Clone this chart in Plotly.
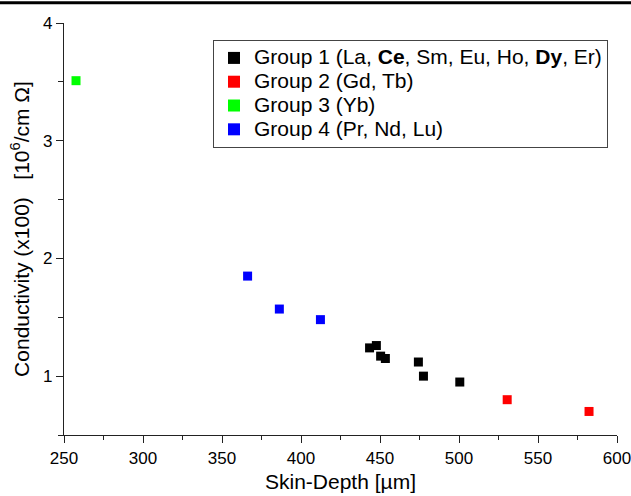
import plotly.graph_objects as go

# Data
g1_x = [443.4, 447.7, 450.4, 453.4, 474.3, 477.5, 500.5]
g1_y = [1.24, 1.26, 1.17, 1.15, 1.12, 1.00, 0.95]
g2_x = [530.5, 582.3]
g2_y = [0.80, 0.70]
g3_x = [257.6]
g3_y = [3.51]
g4_x = [366.2, 386.3, 412.3]
g4_y = [1.85, 1.57, 1.48]

names = [
    "Group 1 (La, <b>Ce</b>, Sm, Eu, Ho, <b>Dy</b>, Er)",
    "Group 2 (Gd, Tb)",
    "Group 3 (Yb)",
    "Group 4 (Pr, Nd, Lu)",
]
colors = ["#000000", "#ff0000", "#00ff00", "#0000ff"]
series = [(g1_x, g1_y), (g2_x, g2_y), (g3_x, g3_y), (g4_x, g4_y)]

FONT = "Arial, 'Liberation Sans', sans-serif"

fig = go.Figure()
for (xs, ys), nm, c in zip(series, names, colors):
    fig.add_trace(go.Scatter(
        x=xs, y=ys, mode="markers",
        name='<span style="font-size:21px">' + nm + '</span>',
        marker=dict(symbol="square", size=9, color=c, line=dict(width=0)),
    ))

axis_common = dict(
    showline=True, linecolor="#222222", linewidth=1.3,
    ticks="outside", ticklen=7, tickwidth=1.3, tickcolor="#222222",
    showgrid=False, zeroline=False, mirror=False, automargin=False,
    ticklabeloverflow="allow",
    tickfont=dict(family=FONT, size=17, color="#000000"),
)

fig.update_xaxes(
    range=[250, 600], dtick=50, tick0=250,
    minor=dict(ticks="outside", dtick=25, ticklen=4, tickwidth=1.3, tickcolor="#222222"),
    title=dict(text="Skin-Depth [µm]", font=dict(family=FONT, size=21, color="#000000"), standoff=7),
    **axis_common,
)
fig.update_yaxes(
    range=[0.5, 4], dtick=1, tick0=1,
    minor=dict(ticks="outside", dtick=0.5, tick0=0.5, ticklen=5, tickwidth=1.3, tickcolor="#222222"),
    title=dict(text="Conductivity (x100)   [10<sup>6</sup>/cm Ω]",
               font=dict(family=FONT, size=21, color="#000000"), standoff=7),
    **axis_common,
)

# thin rule across the top edge of the picture
fig.add_shape(type="line", xref="paper", yref="paper",
              x0=-0.2, x1=1.2, y0=1.049, y1=1.049,
              line=dict(color="#000000", width=3), layer="above")

fig.update_layout(
    width=631, height=496,
    margin=dict(l=64, r=14, t=23, b=61),
    paper_bgcolor="white", plot_bgcolor="white",
    font=dict(family=FONT, color="#000000"),
    legend=dict(
        x=0.2694, y=0.9587, xanchor="left", yanchor="top",
        bordercolor="#444444", borderwidth=1, bgcolor="rgba(255,255,255,0)",
        font=dict(family=FONT, size=16, color="#000000"),
        itemsizing="constant",
    ),
    showlegend=True,
)

fig.write_html(
    "out.html",
    config={"displayModeBar": False},
    post_script="document.body.style.margin='0';document.body.style.padding='0';",
)
